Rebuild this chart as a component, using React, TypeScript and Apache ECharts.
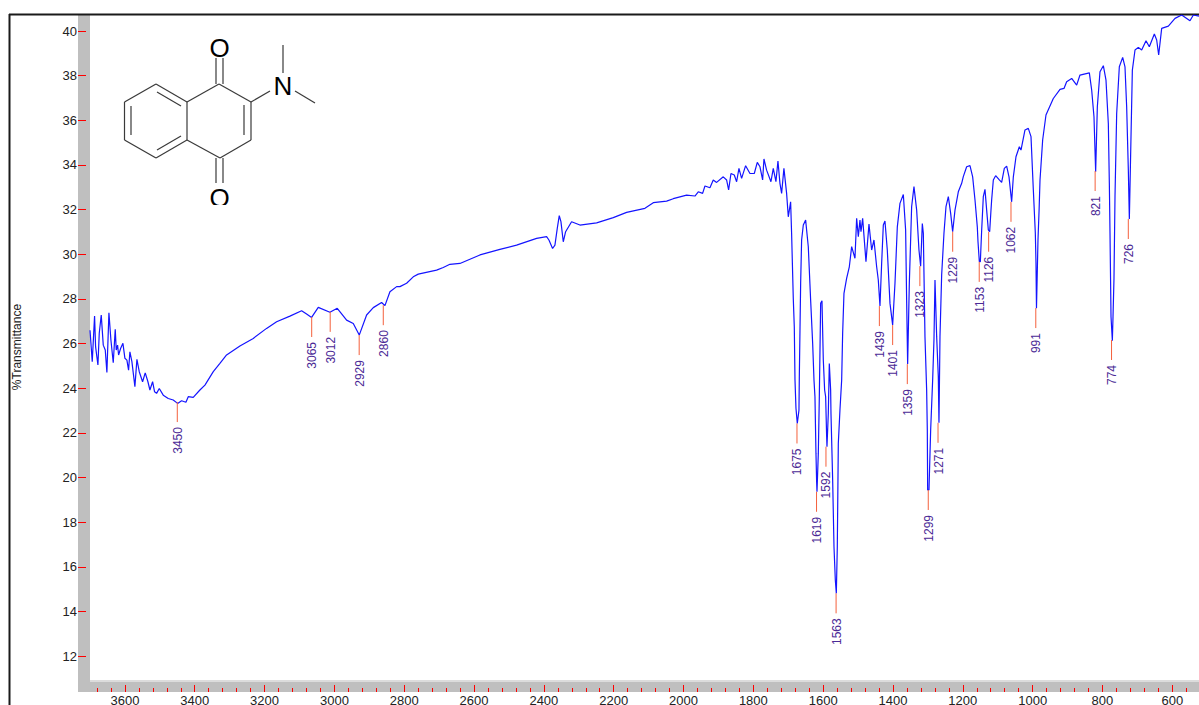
import React, { useEffect, useRef } from "react";
import * as echarts from "echarts";

// Spectrum, as [wavenumber cm-1, %T]
const hydroxylRegion: number[][] = [
  [3700,26.6],[3693.6,25.19],[3686.9,27.23],[3684,25.86],[3677.3,25.04],[3673.5,26.46],[3667.8,27.28],[3662,25.93],[3656.3,25.71],[3651.6,24.71],
  [3645.8,27.38],[3640.1,26.16],[3633.4,25.14],[3627.7,26.64],[3624.8,25.71],[3621,25.93],[3618.1,25.49],[3612.4,25.78],[3605.7,26.01],[3600,25.34],
  [3594.3,25.26],[3589.5,24.81],[3585.7,25.63],[3580,25.19],[3571.4,24.07],[3565.6,25.29],[3558.9,24.74],[3549.4,24.29],[3541.8,24.69],[3534.1,24.29],
  [3528.4,23.92],[3520.7,24.29],[3515,23.84],[3509.3,23.77],[3501.6,23.99],[3490.2,23.69],[3475.9,23.54],[3461.6,23.47],[3449.1,23.32],[3437.7,23.44],
  [3425.2,23.37],[3418.6,23.62],[3404.3,23.59],[3385.2,23.92],[3370.8,24.14],[3346.9,24.74],[3327.9,25.11],[3308.8,25.49],[3270.6,25.89],[3232.4,26.23],
  [3194.2,26.68],[3165.5,26.98],[3127.3,27.23],[3093.9,27.47],[3079.6,27.32],[3065.3,27.17],[3046.2,27.62],[3012.8,27.4],[2991.8,27.58],[2965,27.05],
  [2945.9,26.9],[2928.8,26.38],[2907.7,27.28],[2888.6,27.61],[2864.8,27.84],[2855.2,27.7],[2840.9,28.32],[2821.7,28.55],
];
const plateauRegion: number[][] = [
  [2812.3,28.55],[2793.2,28.7],[2774.1,28.99],[2759.8,29.11],[2707.3,29.29],[2688.2,29.41],[2669.1,29.55],[2640.4,29.59],[2583.1,29.97],[2525.9,30.22],
  [2478.1,30.41],[2420.8,30.71],[2392.2,30.79],[2385.5,30.64],[2375,30.26],[2368.3,30.41],[2361.6,31.16],[2355.9,31.73],[2351.1,31.46],[2344.4,30.56],
  [2337.7,31.01],[2320.6,31.46],[2296.7,31.31],[2248.9,31.41],[2201.2,31.64],[2163,31.88],[2110.5,32.06],[2086.6,32.31],[2048.4,32.38],[2029.3,32.49],
  [1991.2,32.65],[1967.3,32.61],[1957.7,32.8],[1945.3,32.73],[1938.6,33.06],[1924.3,32.98],[1914.8,33.33],[1905.2,33.22],[1886.1,33.47],[1876.6,33.33],
  [1870.8,32.88],[1864.1,33.62],[1854.6,33.55],[1847.9,33.25],[1841.2,33.85],[1833.6,33.4],[1822.1,33.97],[1809.7,33.62],[1797.3,33.62],[1788.7,34.12],
  [1781,33.92],[1773.4,33.33],[1769.6,34.27],[1762,33.77],[1749.6,33.25],[1742.9,33.85],[1735.3,33.25],[1729.5,34.18],[1723.8,33.18],[1719,32.73],
  [1712.4,33.85],[1704.7,32.73],[1699.9,31.68],[1693.2,32.35],[1690.4,30.94],[1685.6,28.02],
];
const carbonylRegion: number[][] = [
  [1682.7,26.75],[1680.7,24.37],[1677.9,23.1],[1674.1,22.42],[1669.3,23.02],[1668.3,24.52],[1664.5,28.7],[1661.7,30.64],[1656.9,31.31],[1650.2,31.53],
  [1642.6,30.34],[1635.9,27.95],[1630.1,26.01],[1626.3,24.37],[1623.5,23.62],[1620.6,21.08],[1618.7,19.81],[1617.7,19.36],[1613.9,21.08],[1611,23.62],
  [1609.1,25.71],[1607.2,27.8],[1603.4,27.92],[1599.6,25.26],[1595.8,23.92],[1592.9,23.62],[1590,21.83],[1589.1,21.38],[1585.3,22.87],[1582.4,25.11],
  [1578.6,23.92],[1577.6,22.87],[1572.8,19.89],[1569,16.9],[1565.2,15.41],[1562.3,14.81],[1559.5,16.9],[1556.6,21.53],[1551.9,23.02],[1547,24.37],
  [1544.2,26.46],[1540.4,28.25],[1532.8,28.92],[1525.1,29.44],[1518.4,30.34],[1508.9,29.82],[1504.1,31.61],[1499.3,30.79],[1494.6,31.53],[1491.7,31.01],
  [1486.9,31.61],[1477.4,29.67],[1468.8,31.35],[1461.1,30.19],[1454.5,30.64],[1446.8,29.44],[1442.1,28.85],[1437.3,27.68],[1432.5,29.59],[1427.7,31.31],
  [1423,31.49],[1416.3,30.19],[1408.6,27.8],[1401,26.83],[1394.3,28.7],[1387.6,31.23],[1380,32.28],[1370.4,32.68],[1363.8,31.09],[1360.9,27.95],
  [1358,25.08],[1353.2,28.7],[1346.6,32.13],[1339.9,33.03],[1332.2,31.98],[1325.6,30.19],[1320.8,29.47],[1316,31.38],[1313.1,30.94],[1308.4,26.31],
  [1303.6,23.92],[1301.7,22.13],[1300.7,19.44],[1296.9,19.44],[1292.1,22.13],[1286.4,24.37],[1282.6,26.18],[1279.7,28.85],[1274.9,26.31],[1270.2,24.52],
  [1268.3,22.45],[1265.4,26.31],[1260.6,29.07],[1254,30.94],[1248.2,32.13],[1241.5,32.58],[1234.8,31.83],[1229.1,31.01],[1222.4,31.98],[1212.9,32.8],
  [1203.3,33.18],
];
const fingerprintRegion: number[][] = [
  [1198.6,33.48],[1189,33.92],[1179.5,33.97],[1171.8,33.47],[1165.1,32.43],[1158.5,31.23],[1156.5,30.56],[1152.7,29.67],[1149.8,29.67],[1146,31.08],
  [1141.3,32.58],[1136.5,32.91],[1131.7,31.98],[1126.9,31.09],[1123.1,31.01],[1119.3,31.98],[1117.4,32.43],[1112.6,33.33],[1106,33.52],[1095.4,33.33],
  [1088.8,33.22],[1081.1,33.85],[1074.4,33.95],[1067.7,33.47],[1060.1,32.35],[1055.3,33.47],[1047.7,34.37],[1038.1,34.82],[1033.4,34.67],[1021.9,35.57],
  [1012.4,35.64],[1004.7,35.27],[998,32.88],[992.3,30.94],[990.4,29.59],[989,27.58],[984.7,30.64],[981.5,32],[978.9,33.33],[971.3,35.12],
  [961.8,36.24],[940.8,36.98],[921.6,37.39],[910.2,37.43],[902.6,37.73],[888.2,37.88],[873.9,37.58],[864.4,38.03],[837.6,38.13],[830.9,37.36],
  [824.3,36.16],[819.5,33.7],[814.7,36.61],[807.1,38.18],[797.5,38.45],[789.9,37.8],[783.2,35.86],[780.3,33.18],[778.4,30.94],[775.5,27.2],
  [771.7,26.13],[769.8,27.2],[767,28.92],[764.1,32.58],[759.3,36.31],[751.7,38.4],[742.1,38.82],[735.5,38.4],[730.7,36.61],[725.9,33.77],
  [723,31.58],[720.2,33.77],[714.4,38.25],[706.8,39.15],[697.3,39.27],[687.7,39.15],[675.3,39.57],[665.8,39.3],[651.4,39.87],[644.7,39.6],
  [639,38.93],[630.4,40.12],[611.3,40.22],[592.2,40.57],[573.1,40.72],[549.3,40.46],[539.7,40.72],[523.5,40.67],
];

const peakLabels = ["3450","3065","3012","2929","2860","1675","1619","1592","1563","1439","1401","1359","1323","1299","1271","1229","1153","1126","1062","991","821","774","726"];
const peakWavenumbers = [3450,3065,3012,2929,2860,1675,1619,1592,1563,1439,1401,1359,1323,1299,1271,1229,1153,1126,1062,991,821,774,726];
const peakTransmittance = [23.38,27.19,27.42,26.38,27.72,22.42,19.36,21.38,14.81,27.68,26.83,25.08,29.47,19.44,22.45,31.01,29.66,31.01,32.35,27.59,33.73,26.16,31.58];

const xMajorTicks = [3600,3400,3200,3000,2800,2600,2400,2200,2000,1800,1600,1400,1200,1000,800,600];
const xMinorTicks = [3680,3640,3560,3520,3480,3440,3360,3320,3280,3240,3160,3120,3080,3040,2960,2920,2880,2840,2760,2720,2680,2640,2560,2520,2480,2440,2360,2320,2280,2240,2160,2120,2080,2040,1960,1920,1880,1840,1760,1720,1680,1640,1560,1520,1480,1440,1360,1320,1280,1240,1160,1120,1080,1040,960,920,880,840,760,720,680,640,560];
const yTicks = [12,14,16,18,20,22,24,26,28,30,32,34,36,38,40];

const X_MIN = 523.5, X_MAX = 3700, Y_MIN = 10.39, Y_MAX = 40.72;
const TICK_RED = "#ff0000";
const TEXT_DARK = "#222222";
const FONT = "'Liberation Sans', Arial, sans-serif";
const plainNumber = (v: number) => String(v);

const bond = (x1: number, y1: number, x2: number, y2: number) => ({
  type: "line", shape: { x1, y1, x2, y2 }, style: { stroke: "#3a3a3a", lineWidth: 1.2 }, silent: true,
});
const atom = (text: string, x: number, y: number) => ({
  type: "text", x, y, silent: true,
  style: { text, fontSize: 26, fontFamily: FONT, fill: "#000", align: "center", verticalAlign: "middle" },
});

const structureBonds = [
  [124.5,102,156,84],[156,84,187,102],[187,102,187,140],[187,140,156,158],[156,158,124.5,140],[124.5,140,124.5,102],
  [131,106,131,135],[157,92,181,106],[157,150,181,136],
  [187,102,219,84],[219,84,251,102],[251,102,251,140],[251,140,220,158],[220,158,187,140],[244,105,244,135],
  [216,84,216,58],[223,84,223,58],[216,158,216,183],[223,158,223,183],
  [251,102,270,91],[283,73,283,45],[295,91,315,103],
];

export default function App() {
  const ref = useRef<HTMLDivElement>(null);
  useEffect(() => {
    const chart = echarts.init(ref.current!, undefined, { renderer: "svg" });
    const spectrum = [...hydroxylRegion, ...plateauRegion, ...carbonylRegion, ...fingerprintRegion];
    const peaks = peakWavenumbers.map((w, i) => [w, peakTransmittance[i]]);
    const xBase = {
      type: "value", inverse: true, min: X_MIN, max: X_MAX, position: "bottom",
      axisLine: { show: false }, splitLine: { show: false }, z: 5,
    };
    chart.setOption({
      animation: false,
      backgroundColor: "#fff",
      grid: { left: 90, top: 15, width: 1109, height: 677, containLabel: false, outerBoundsMode: "none" },
      xAxis: [
        {
          ...xBase,
          axisTick: { show: true, inside: true, length: 7, customValues: xMajorTicks, lineStyle: { color: TICK_RED, width: 1 } },
          axisLabel: { show: true, customValues: xMajorTicks, formatter: plainNumber, margin: 2, fontSize: 13, fontFamily: FONT, color: TEXT_DARK, hideOverlap: false },
        },
        {
          ...xBase,
          axisTick: { show: true, inside: true, length: 4, customValues: xMinorTicks, lineStyle: { color: TICK_RED, width: 1 } },
          axisLabel: { show: false },
        },
      ],
      yAxis: {
        type: "value", min: Y_MIN, max: Y_MAX, offset: 4, z: 5,
        name: "%Transmittance", nameLocation: "middle", nameGap: 63,
        nameTextStyle: { fontSize: 12, fontFamily: FONT, color: TEXT_DARK, padding: [0, 0, 0, 13] },
        axisLine: { show: false }, splitLine: { show: false },
        axisTick: { show: true, length: 8, customValues: yTicks, lineStyle: { color: TICK_RED, width: 1 } },
        axisLabel: { show: true, customValues: yTicks, formatter: plainNumber, margin: 9, fontSize: 13, fontFamily: FONT, color: TEXT_DARK },
      },
      graphic: [
        { type: "rect", shape: { x: 78, y: 15, width: 12, height: 677 }, style: { fill: "#bfbfbf" }, silent: true },
        { type: "rect", shape: { x: 78, y: 681, width: 1121, height: 11 }, style: { fill: "#bfbfbf" }, silent: true },
        { type: "rect", shape: { x: 90, y: 680, width: 1109, height: 2 }, style: { fill: "#dcdcdc" }, silent: true },
        { type: "line", shape: { x1: 9.5, y1: 14, x2: 9.5, y2: 705 }, style: { stroke: "#1a1a1a", lineWidth: 2 }, silent: true },
        { type: "line", shape: { x1: 9, y1: 14.5, x2: 1199, y2: 14.5 }, style: { stroke: "#1a1a1a", lineWidth: 2 }, silent: true },
        ...structureBonds.map((b) => bond(b[0], b[1], b[2], b[3])),
        atom("O", 219.5, 48),
        atom("N", 283, 86),
        atom("O", 219.5, 198),
        { type: "rect", shape: { x: 200, y: 205, width: 40, height: 10 }, style: { fill: "#fff" }, silent: true },
      ],
      series: [
        {
          type: "line", data: spectrum, symbol: "none", smooth: false, z: 3,
          lineStyle: { color: "#1414ff", width: 1.2 }, silent: true,
        },
        {
          type: "custom", data: peaks, z: 4, clip: false, silent: true,
          renderItem: (params: any, api: any) => {
            const p = api.coord([api.value(0), api.value(1)]);
            return {
              type: "group",
              children: [
                { type: "line", shape: { x1: p[0], y1: p[1], x2: p[0], y2: p[1] + 20 }, style: { stroke: "#f4603c", lineWidth: 1 } },
                {
                  type: "text", x: p[0] + 0.5, y: p[1] + 25, rotation: Math.PI / 2,
                  style: { text: peakLabels[params.dataIndex], fontSize: 12, fontFamily: FONT, fill: "#4b2a96", align: "right", verticalAlign: "middle" },
                },
              ],
            };
          },
        },
      ],
    });
    return () => chart.dispose();
  }, []);
  return <div ref={ref} style={{ position: "fixed", left: 0, top: 0, width: 1199, height: 705 }} />;
}
